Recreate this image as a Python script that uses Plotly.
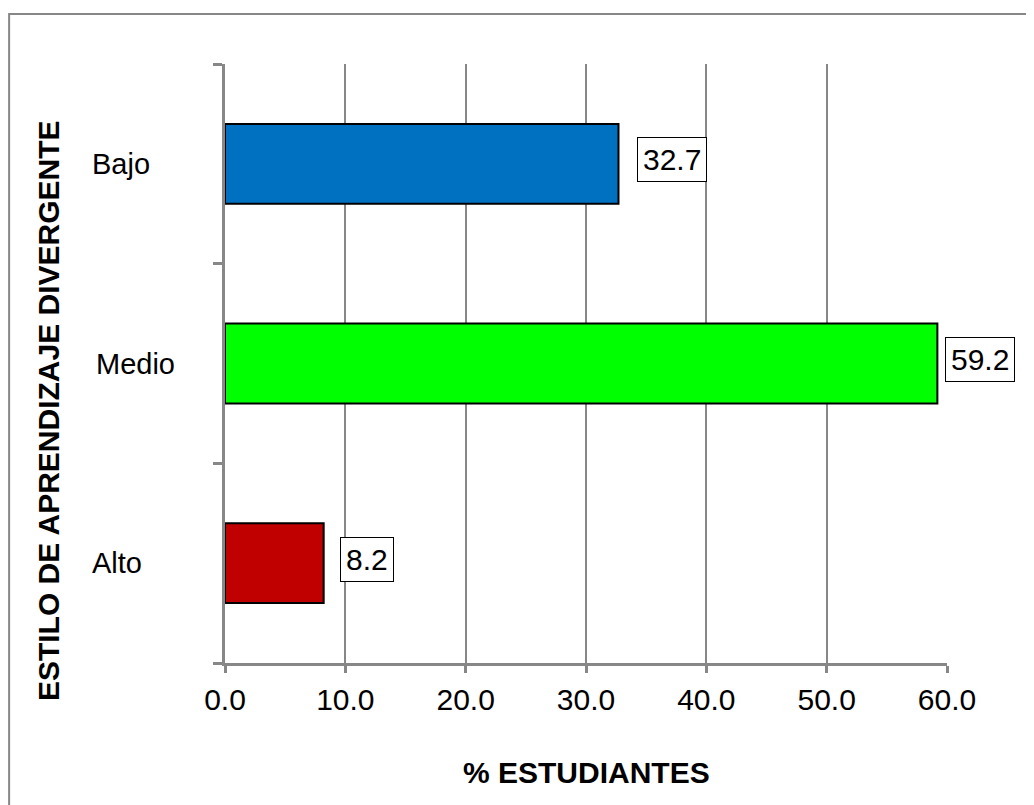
import plotly.graph_objects as go

# data
categories = ["Alto", "Medio", "Bajo"]
percentages = [8.2, 59.2, 32.7]
bar_colors = ["#C00000", "#00FF00", "#0070C0"]
tick_values = [0, 10, 20, 30, 40, 50, 60]

x_title = "% ESTUDIANTES"
y_title = "ESTILO DE APRENDIZAJE DIVERGENTE"

GRAY = "#878787"
FONT = "Liberation Sans, Arial, sans-serif"

fig = go.Figure()

fig.add_trace(
    go.Bar(
        x=percentages,
        y=categories,
        orientation="h",
        width=0.4,
        marker=dict(color=bar_colors, line=dict(color="black", width=2)),
        hoverinfo="x+y",
    )
)

# value labels in little boxes next to each bar
label_shift = {"Alto": 16, "Medio": 8, "Bajo": 19}
for cat, val in zip(categories, percentages):
    fig.add_annotation(
        x=val, y=cat, xref="x", yref="y",
        text=f"{val:.1f}", showarrow=False,
        xanchor="left", yanchor="middle",
        xshift=label_shift[cat], yshift=4,
        font=dict(family=FONT, size=30, color="black"),
        bgcolor="white", bordercolor="black", borderwidth=1, borderpad=5,
    )

# category labels (left aligned, like the original)
cat_shift = {"Alto": -4, "Medio": 0, "Bajo": -4}
for cat in categories:
    fig.add_annotation(
        x=-0.181, y=cat, xref="paper", yref="y",
        text=cat, showarrow=False, xanchor="left", yanchor="middle",
        xshift=cat_shift[cat],
        font=dict(family=FONT, size=29, color="black"),
    )

# axis titles
fig.add_annotation(
    x=0.5, y=-0.1836, xref="paper", yref="paper",
    text=f"<b>{x_title}</b>", showarrow=False,
    xanchor="center", yanchor="middle",
    font=dict(family=FONT, size=30, color="black"),
)
fig.add_annotation(
    x=-0.245, y=0.4207, xref="paper", yref="paper",
    text=f"<b>{y_title}</b>", showarrow=False, textangle=-90,
    xanchor="center", yanchor="middle",
    font=dict(family=FONT, size=30, color="black"),
)

# outer chart frame (only top and left visible in the crop)
fig.add_shape(
    type="rect", xref="paper", yref="paper",
    x0=-0.299, x1=1.3, y0=-0.4, y1=1.0835,
    line=dict(color=GRAY, width=2), layer="below",
)

# page body has an 8px margin, so the figure is sized to fill the rest
fig.update_layout(
    width=1026, height=797,
    plot_bgcolor="white", paper_bgcolor="white",
    margin=dict(l=217, r=87, t=56, b=142),
    showlegend=False,
    font=dict(family=FONT, size=29, color="black"),
    xaxis=dict(
        range=[0, 60],
        tickvals=tick_values,
        tickformat=".1f",
        showgrid=True, gridcolor=GRAY, gridwidth=2,
        zeroline=False,
        showline=True, linecolor=GRAY, linewidth=3,
        ticks="outside", ticklen=7, tickwidth=3, tickcolor=GRAY,
        tickfont=dict(family=FONT, size=30, color="black"),
        ticklabelstandoff=1,
    ),
    yaxis=dict(
        categoryorder="array", categoryarray=categories,
        range=[-0.5, 2.5],
        showticklabels=False,
        showgrid=False, zeroline=False,
        showline=True, linecolor=GRAY, linewidth=3,
        ticks="outside", tickson="boundaries",
        ticklen=9, tickwidth=3, tickcolor=GRAY,
    ),
)

fig.write_html("out.html")
